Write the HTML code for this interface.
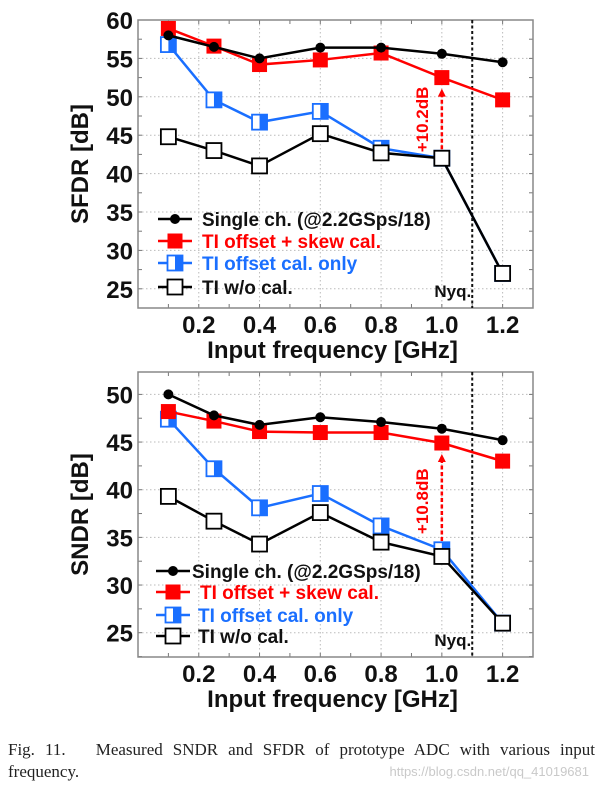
<!DOCTYPE html>
<html><head><meta charset="utf-8"><style>
body{margin:0;background:#fff;width:601px;height:789px;overflow:hidden}
svg{position:absolute;left:0;top:0}
.cap{position:absolute;left:8px;top:739px;width:587px;font:17px "Liberation Serif",serif;color:#222;line-height:22px}
.cap .l1{display:block;text-align:justify;text-align-last:justify;white-space:nowrap}
.wm{position:absolute;right:12px;top:764px;font:13px "Liberation Sans",sans-serif;color:#c9c9c9}
</style></head><body>
<svg id="chart" width="601" height="789"></svg>
<div class="cap"><span class="l1">Fig. 11.&nbsp;&nbsp; Measured SNDR and SFDR of prototype ADC with various input</span>frequency.</div>
<div class="wm">https://blog.csdn.net/qq_41019681</div>
<script>
const freqs=[0.1,0.25,0.4,0.6,0.8,1.0,1.2];
const xTicks=[0.2,0.4,0.6,0.8,1.0,1.2];
const xTickLabels=["0.2","0.4","0.6","0.8","1.0","1.2"];
const sfdrSingle=[58,56.5,55,56.4,56.4,55.6,54.5];
const sfdrSkew=[58.9,56.6,54.2,54.8,55.7,52.5,49.6];
const sfdrOffset=[56.8,49.6,46.7,48.1,43.3,42.0,27];
const sfdrNoCal=[44.8,43,41,45.2,42.7,42,27];
const sfdrTicks=[25,30,35,40,45,50,55,60];
const sndrSingle=[50,47.8,46.8,47.6,47.1,46.4,45.2];
const sndrSkew=[48.2,47.2,46.1,46,46,44.9,43];
const sndrOffset=[47.4,42.2,38.1,39.6,36.2,33.7,26];
const sndrNoCal=[39.3,36.7,34.3,37.6,34.5,33,26];
const sndrTicks=[25,30,35,40,45,50];
const legendLabels=["Single ch. (@2.2GSps/18)","TI offset + skew cal.","TI offset cal. only","TI w/o cal."];
const NS="http://www.w3.org/2000/svg";
const svg=document.getElementById('chart');
function el(t,a,p){const e=document.createElementNS(NS,t);for(const k in a)e.setAttribute(k,a[k]);(p||svg).appendChild(e);return e;}
const F='Liberation Sans,sans-serif';
function panel(o){
  const g=el('g',{});
  
  
  const X=v=>o.x0+(v-0)/(1.3)*(o.x1-o.x0);
  const Y=v=>o.y1-(v-o.ymin)/(o.ymax-o.ymin)*(o.y1-o.y0);
  xTicks.forEach(t=>{const l=el('line',{x1:X(t),x2:X(t),y1:o.y0,y2:o.y1,stroke:'#bbb','stroke-dasharray':'1.5,2.5','stroke-width':1},g);});
  o.ticks.forEach(t=>{const l=el('line',{x1:o.x0,x2:o.x1,y1:Y(t),y2:Y(t),stroke:'#bbb','stroke-dasharray':'1.5,2.5','stroke-width':1},g);});
  for(let v=0.1;v<1.3;v+=0.1){el('line',{x1:X(v),x2:X(v),y1:o.y1,y2:o.y1-4,stroke:'#777'},g);el('line',{x1:X(v),x2:X(v),y1:o.y0,y2:o.y0+4,stroke:'#777'},g);}
  for(let v=Math.ceil(o.ymin/2.5)*2.5;v<=o.ymax;v+=2.5){el('line',{x1:o.x0,x2:o.x0+4,y1:Y(v),y2:Y(v),stroke:'#777'},g);el('line',{x1:o.x1,x2:o.x1-4,y1:Y(v),y2:Y(v),stroke:'#777'},g);}
  const box=el('rect',{x:o.x0,y:o.y0,width:o.x1-o.x0,height:o.y1-o.y0,fill:'none',stroke:'#888','stroke-width':1.5},g);
  
  xTicks.forEach((t,i)=>{const e=el('text',{x:X(t),y:o.y1+25,'text-anchor':'middle','font-family':F,'font-weight':'bold','font-size':24,fill:'#111'},g);e.textContent=xTickLabels[i];});
  o.ticks.forEach(t=>{const e=el('text',{x:o.x0-5,y:Y(t)+9,'text-anchor':'end','font-family':F,'font-weight':'bold','font-size':24,fill:'#111'},g);e.textContent=t;});
  const xt=el('text',{x:(o.x0+o.x1)/2-3,y:o.y1+50,'text-anchor':'middle','font-family':F,'font-weight':'bold','font-size':24,fill:'#111'},g);xt.textContent='Input frequency [GHz]';
  
  const yc=(o.y0+o.y1)/2;
  const yt=el('text',{x:0,y:0,transform:`translate(${o.x0-50},${yc}) rotate(-90)`,'text-anchor':'middle','font-family':F,'font-weight':'bold','font-size':24,fill:'#111'},g);yt.textContent=o.ylabel;
  
  const ny=el('line',{x1:X(1.1),x2:X(1.1),y1:o.y0,y2:o.y1,stroke:'#111','stroke-dasharray':'3,2.5','stroke-width':2},g);
  
  const nt=el('text',{x:X(1.1)-1,y:o.y1-11,'text-anchor':'end','font-family':F,'font-weight':'bold','font-size':17,fill:'#111'},g);nt.textContent='Nyq.';
  
  const i5=5;
  const ax=X(freqs[i5]);const ya=Y(o.noCal[i5])-9, yb=Y(o.skew[i5])+12;
  const ar=el('line',{x1:ax,x2:ax,y1:ya,y2:yb+6,stroke:'#f00','stroke-width':2.5,'stroke-dasharray':'4,2.5'},g);
  
  el('polygon',{points:`${ax-4},${yb+7} ${ax+4},${yb+7} ${ax},${yb-1}`,fill:'#f00'},g);
  const at=el('text',{x:0,y:0,transform:`translate(${ax-14},${(ya+yb)/2}) rotate(-90)`,'text-anchor':'middle','font-family':F,'font-weight':'bold','font-size':17,fill:'#f00'},g);at.textContent=o.gain;
  
  const series=[
    {d:o.offset,c:'#1a6fff',m:'half',n:'series-offset-cal'},
    {d:o.noCal,c:'#000',m:'open',n:'series-no-cal'},
    {d:o.skew,c:'#f00',m:'fill',n:'series-offset-skew-cal'},
    {d:o.single,c:'#000',m:'dot',n:'series-single-channel'}];
  function marker(m,c,x,y,par,s){
    s=s||o.ms;
    if(m==='dot'){return el('circle',{cx:x,cy:y,r:5,fill:'#000'},par);}
    if(m==='fill'){return el('rect',{x:x-s/2,y:y-s/2,width:s,height:s,fill:'#f00'},par);}
    if(m==='open'){return el('rect',{x:x-s/2,y:y-s/2,width:s,height:s,fill:'#fff',stroke:'#000','stroke-width':1.8},par);}
    const gg=el('g',{},par);
    el('rect',{x:x-s/2,y:y-s/2,width:s,height:s,fill:'#fff',stroke:c,'stroke-width':1.8},gg);
    el('rect',{x:x,y:y-s/2,width:s/2,height:s,fill:c},gg);return gg;
  }
  series.forEach(se=>{
    const sg=el('g',{},g);
    const pts=se.d.map((v,i)=>X(freqs[i])+','+Y(v)).join(' ');
    el('polyline',{points:pts,fill:'none',stroke:se.c,'stroke-width':2.5},sg);
    se.d.forEach((v,i)=>{const mk=marker(se.m,se.c,X(freqs[i]),Y(v),sg);});
  });
  const cols=['#000','#f00','#1a6fff','#000'],ms=['dot','fill','half','open'];
  legendLabels.forEach((lab,i)=>{
    const ly=o.ly[i];const lg=el('g',{},g);
    el('line',{x1:o.lx,x2:o.lx+34,y1:ly,y2:ly,stroke:cols[i],'stroke-width':2.5},lg);
    marker(ms[i],cols[i],o.lx+17,ly,lg,15);
    const t=el('text',{x:o.lx+o.tx[i],y:ly+7,'font-family':F,'font-weight':'bold','font-size':19,fill:i==0||i==3?'#111':cols[i]},lg);t.textContent=lab;
  });
}
panel({name:'sfdr-panel',x0:138,x1:533,y0:20,y1:308,ymin:22.5,ymax:60,ticks:sfdrTicks,ylabel:'SFDR [dB]',gain:'+10.2dB',
  single:sfdrSingle,skew:sfdrSkew,offset:sfdrOffset,noCal:sfdrNoCal,ms:15,lx:158,tx:[44,44,44,44],ly:[219,241,263,287]});
panel({name:'sndr-panel',x0:138,x1:533,y0:372,y1:657,ymin:22.45,ymax:52.35,ticks:sndrTicks,ylabel:'SNDR [dB]',gain:'+10.8dB',
  single:sndrSingle,skew:sndrSkew,offset:sndrOffset,noCal:sndrNoCal,ms:15,lx:156,tx:[36,44,42,42],ly:[571,592,615,636]});
</script>
</body></html>
